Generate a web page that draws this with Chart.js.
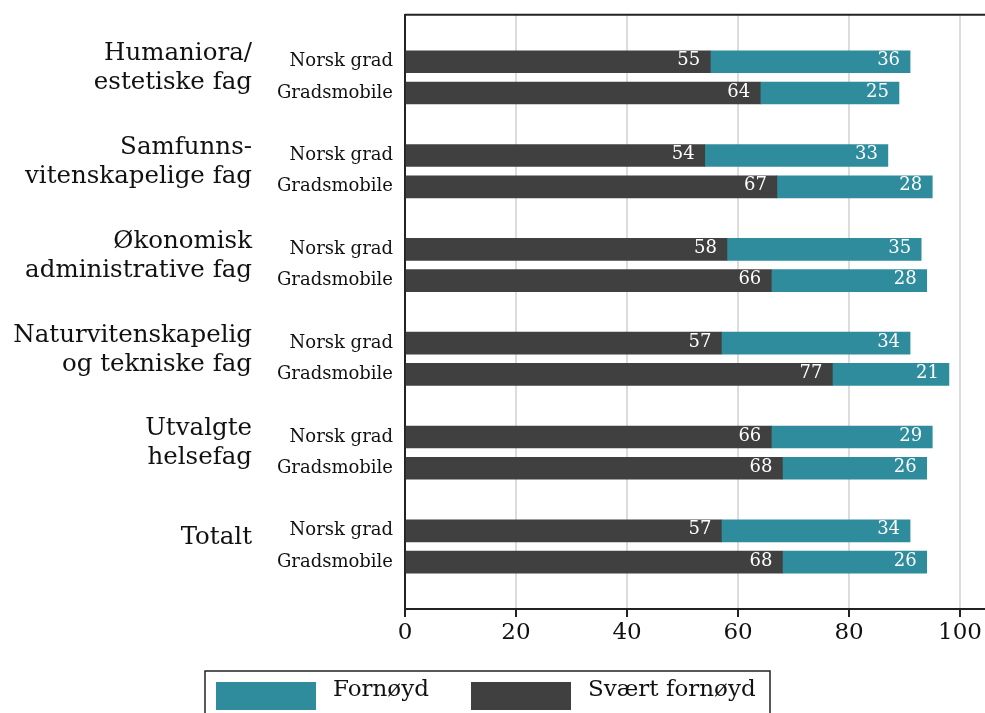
<!DOCTYPE html>
<html>
<head>
<meta charset="utf-8">
<script src="https://cdn.jsdelivr.net/npm/chart.js@4"></script>
<style>
  body { margin: 0; background: #fff; }
  #wrap { width: 985px; height: 713px; }
</style>
</head>
<body>
<div id="wrap"><canvas id="chart" width="985" height="713"></canvas></div>
<script>
const groupLabels = [
  ["Humaniora/", "estetiske fag"],
  ["Samfunns-", "vitenskapelige fag"],
  ["Økonomisk", "administrative fag"],
  ["Naturvitenskapelig", "og tekniske fag"],
  ["Utvalgte", "helsefag"],
  ["Totalt"],
];
const subLabels = ["Norsk grad", "Gradsmobile"];
const svaertFornoyd = [55, 64, 54, 67, 58, 66, 57, 77, 66, 68, 57, 68];
const fornoyd = [36, 25, 33, 28, 35, 28, 34, 21, 29, 26, 34, 26];
const xTicks = [0, 20, 40, 60, 80, 100];

const FONT = "DejaVu Serif";
const DARK = "#404040";
const TEAL = "#2e8c9c";

// one blank row before every group, so the groups get a gap
const rowLabels = [];
const rowSvaert = [];
const rowFornoyd = [];
groupLabels.forEach((g, gi) => {
  rowLabels.push("");
  rowSvaert.push(null);
  rowFornoyd.push(null);
  subLabels.forEach((s, si) => {
    rowLabels.push(s);
    rowSvaert.push(svaertFornoyd[gi * 2 + si]);
    rowFornoyd.push(fornoyd[gi * 2 + si]);
  });
});
rowLabels.push("");
rowSvaert.push(null);
rowFornoyd.push(null);

const valueLabels = {
  id: "valueLabels",
  afterDatasetsDraw(chart) {
    const { ctx } = chart;
    ctx.save();
    ctx.font = `18px "${FONT}"`;
    ctx.fillStyle = "#fff";
    ctx.textAlign = "right";
    ctx.textBaseline = "middle";
    chart.data.datasets.forEach((ds, di) => {
      chart.getDatasetMeta(di).data.forEach((bar, i) => {
        const v = ds.data[i];
        if (v == null) return;
        ctx.fillText(v, bar.x - 10, bar.y - 1);
      });
    });
    ctx.restore();
  },
};

const extras = {
  id: "extras",
  afterDraw(chart) {
    const { ctx, chartArea } = chart;
    const y = chart.scales.y;
    ctx.save();

    // top frame line
    ctx.strokeStyle = "#222";
    ctx.lineWidth = 2;
    ctx.beginPath();
    ctx.moveTo(chartArea.left, chartArea.top);
    ctx.lineTo(chartArea.right, chartArea.top);
    ctx.stroke();

    // group names
    ctx.font = `24.5px "${FONT}"`;
    ctx.fillStyle = "#111";
    ctx.textAlign = "right";
    ctx.textBaseline = "middle";
    groupLabels.forEach((lines, gi) => {
      const mid = (y.getPixelForValue(gi * 3 + 1) + y.getPixelForValue(gi * 3 + 2)) / 2 - 9;
      const lh = 29;
      const start = mid - ((lines.length - 1) * lh) / 2;
      lines.forEach((t, li) => ctx.fillText(t, 252, start + li * lh));
    });

    // legend box
    ctx.strokeStyle = "#222";
    ctx.lineWidth = 1.5;
    ctx.strokeRect(205, 671, 565, 60);
    const items = [chart.data.datasets[1], chart.data.datasets[0]];
    const xs = [216, 471];
    ctx.font = `23px "${FONT}"`;
    ctx.textAlign = "left";
    items.forEach((ds, i) => {
      ctx.fillStyle = ds.backgroundColor;
      ctx.fillRect(xs[i], 682, 100, 28);
      ctx.fillStyle = "#111";
      ctx.fillText(ds.label, xs[i] + 117, 690);
    });
    ctx.restore();
  },
};

new Chart(document.getElementById("chart"), {
  type: "bar",
  data: {
    labels: rowLabels,
    datasets: [
      { label: "Svært fornøyd", data: rowSvaert, backgroundColor: DARK },
      { label: "Fornøyd", data: rowFornoyd, backgroundColor: TEAL },
    ],
  },
  options: {
    indexAxis: "y",
    responsive: false,
    animation: false,
    barThickness: 22,
    layout: { padding: { top: 6, bottom: 54, left: 0, right: 0 } },
    plugins: { legend: { display: false }, tooltip: { enabled: false } },
    scales: {
      x: {
        stacked: true,
        min: 0,
        max: 104.5,
        afterBuildTicks: (axis) => {
          axis.ticks = xTicks.map((v) => ({ value: v }));
        },
        afterFit: (scale) => {
          scale.height = 50;
        },
        grid: { color: "#dcdcdc", lineWidth: 2, tickColor: "#222", tickLength: 8 },
        border: { color: "#222", width: 2 },
        ticks: { color: "#111", font: { family: FONT, size: 23 }, padding: 2 },
      },
      y: {
        stacked: true,
        afterFit: (scale) => {
          scale.width = 405;
        },
        grid: { display: false },
        border: { color: "#222", width: 2 },
        ticks: { color: "#111", font: { family: FONT, size: 18 }, padding: 4, autoSkip: false },
      },
    },
  },
  plugins: [valueLabels, extras],
});
</script>
</body>
</html>
